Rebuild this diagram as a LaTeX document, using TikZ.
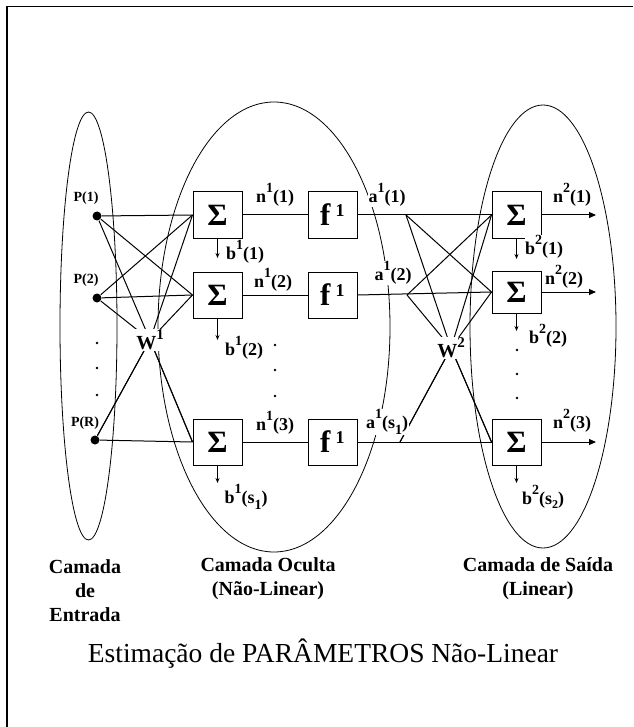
\documentclass[tikz,border=0pt]{standalone}
\usepackage{fontspec}
\setmainfont{Liberation Serif}
\usetikzlibrary{arrows.meta}
\newcommand\lbl[3]{#1\raisebox{0.55em}{\fontsize{14}{14}\selectfont #2}(#3)}
\newcommand\lbs[3]{#1\raisebox{0.55em}{\fontsize{14}{14}\selectfont #2}(#3\raisebox{-0.3em}{\fontsize{14}{14}\selectfont #2})}
\begin{document}
\begin{tikzpicture}[x=1pt,y=-1pt,line width=1pt,
 sbox/.style={draw,fill=white,minimum width=49pt,minimum height=46pt,inner sep=0pt,font=\fontsize{31}{31}\selectfont\bfseries},
 lab/.style={inner sep=0.5pt,fill=white,font=\fontsize{18}{18}\selectfont\bfseries},
 plab/.style={inner sep=0pt,font=\fontsize{14}{14}\selectfont\bfseries},
 wlab/.style={fill=white,inner sep=1pt,font=\fontsize{20}{20}\selectfont\bfseries},
 indot/.style={circle,fill,inner sep=0pt,minimum size=9pt},
 sdot/.style={circle,fill,inner sep=0pt,minimum size=2.6pt},
 layer/.style={line width=0.8pt},
 outarrow/.style={-{Triangle[length=7pt,width=6pt]}},
 bias/.style={-{Stealth[length=5pt,width=4pt]}},
 ltext/.style={align=center,font=\fontsize{20}{24}\selectfont\bfseries,inner sep=0pt},
]
\useasboundingbox (0,0) rectangle (633,727);
% frame
\draw[line width=1.6pt] (633,6.5) -- (7,6.5) -- (7,727);
% layer ellipses
\draw[layer] (88.5,326) ellipse [x radius=28.5pt, y radius=214pt];
\draw[layer] (274,327) ellipse [x radius=116pt, y radius=225pt];
\draw[layer] (543,326.5) ellipse [x radius=73pt, y radius=221.5pt];

% inputs
\node[indot] (p1) at (97,216) {};
\node[indot] (p2) at (97,298) {};
\node[indot] (pr) at (95,440) {};
\node[plab] (lp1) at (86,198) {P(1)};
\node[plab] (lp2) at (86,280) {P(2)};
\node[plab] (lpr) at (85,423) {P(R)};
\node[sdot] (d1) at (97,343) {};
\node[sdot] (d2) at (97,368) {};
\node[sdot] (d3) at (97,395) {};

% hidden layer boxes
\node[sbox] (s1) at (217.5,215) {Σ};
\node[sbox] (s2) at (217.5,295) {Σ};
\node[sbox] (s3) at (217.5,442) {Σ};
\node[sbox] (f1) at (332.5,215) {f\,\textsuperscript{\fontsize{18}{18}\selectfont 1}};
\node[sbox] (f2) at (332.5,295) {f\,\textsuperscript{\fontsize{18}{18}\selectfont 1}};
\node[sbox] (f3) at (332.5,442) {f\,\textsuperscript{\fontsize{18}{18}\selectfont 1}};

% output boxes
\node[sbox] (o1) at (516.5,215) {Σ};
\node[sbox, minimum height=42pt] (o2) at (516.5,292) {Σ};
\node[sbox] (o3) at (516.5,442) {Σ};

% input -> hidden connections
\coordinate (w1c) at (150,340);
\draw (p1) -- (s1.west);
\draw (p1) -- (s2.west);
\draw (p2) -- (s1.west);
\draw (p2) -- (s2.west);
\draw (pr) -- (s3.west);
\draw (p1) -- (w1c) -- (s3.west);
\draw (p2) -- (w1c) -- (s3.west);
\draw (pr) -- (w1c) -- (s1.west);
\draw (pr) -- (w1c) -- (s2.west);
\node[wlab] (w1) at (w1c) {W\raisebox{0.5em}{\fontsize{15}{15}\selectfont 1}};

% hidden internal
\draw (s1) -- (f1);
\draw (s2) -- (f2);
\draw (s3) -- (f3);

% hidden -> output connections
\coordinate (a1) at (406,215);
\coordinate (a2) at (407,295);
\coordinate (a3) at (400,442);
\coordinate (w2c) at (451,348);
\draw (f1.east) -- (o1.west);
\draw (f2.east) -- (o2.west);
\draw (f3.east) -- (o3.west);
\draw (a1) -- (o2.west);
\draw (a2) -- (o1.west);
\draw (a1) -- (w2c) -- (o3.west);
\draw (a2) -- (w2c) -- (o3.west);
\draw (a3) -- (w2c) -- (o1.west);
\draw (a3) -- (w2c) -- (o2.west);
\node[wlab] (w2) at (w2c) {W\raisebox{0.5em}{\fontsize{15}{15}\selectfont 2}};

% outputs
\coordinate (e1) at (596,215);
\coordinate (e2) at (596,292);
\coordinate (e3) at (596,442);
\draw[outarrow] (o1.east) -- (e1);
\draw[outarrow] (o2.east) -- (e2);
\draw[outarrow] (o3.east) -- (e3);

% biases
\coordinate (bh1) at (217.5,258);
\coordinate (bh2) at (217.5,340);
\coordinate (bh3) at (217.5,483);
\coordinate (bo1) at (516.5,259);
\coordinate (bo2) at (516.5,331);
\coordinate (bo3) at (516.5,483);
\draw[bias] (s1.south) -- (bh1);
\draw[bias] (s2.south) -- (bh2);
\draw[bias] (s3.south) -- (bh3);
\draw[bias] (o1.south) -- (bo1);
\draw[bias] (o2.south) -- (bo2);
\draw[bias] (o3.south) -- (bo3);

% dots
\node[sdot] (hd1) at (275,345) {};
\node[sdot] (hd2) at (275,370) {};
\node[sdot] (hd3) at (275,396) {};
\node[sdot] (od1) at (517,350) {};
\node[sdot] (od2) at (517,374) {};
\node[sdot] (od3) at (517,398) {};

% labels
\node[lab] (n11) at (275,195) {\lbl{n}{1}{1}};
\node[lab] (n12) at (273,280) {\lbl{n}{1}{2}};
\node[lab] (n13) at (275,423) {\lbl{n}{1}{3}};
\node[lab] (b11) at (245,252) {\lbl{b}{1}{1}};
\node[lab] (b12) at (244,348) {\lbl{b}{1}{2}};
\node[lab] (b13) at (246,497) {\lbs{b}{1}{s}};
\node[lab] (a11) at (387,195) {\lbl{a}{1}{1}};
\node[lab] (a12) at (393,273) {\lbl{a}{1}{2}};
\node[lab] (a13) at (387,422) {\lbs{a}{1}{s}};
\node[lab] (n21) at (572,195) {\lbl{n}{2}{1}};
\node[lab] (n22) at (564,277) {\lbl{n}{2}{2}};
\node[lab] (n23) at (572,421) {\lbl{n}{2}{3}};
\node[lab] (b21) at (544,247) {\lbl{b}{2}{1}};
\node[lab] (b22) at (548,336) {\lbl{b}{2}{2}};
\node[lab] (b23) at (543,497) {b\raisebox{0.55em}{\fontsize{14}{14}\selectfont 2}(s\raisebox{-0.2em}{\fontsize{12}{12}\selectfont 2})};

% layer captions
\node[ltext] (c1) at (85,591) {Camada\\de\\Entrada};
\node[ltext] (c2) at (268,579) {Camada Oculta\\(Não-Linear)};
\node[ltext] (c3) at (538,579) {Camada de Saída\\(Linear)};

% title
\node[font=\fontsize{27.5}{27.5}\selectfont,inner sep=0pt] (title) at (323,654) {Estimação de PARÂMETROS Não-Linear};
\end{tikzpicture}
\end{document}
